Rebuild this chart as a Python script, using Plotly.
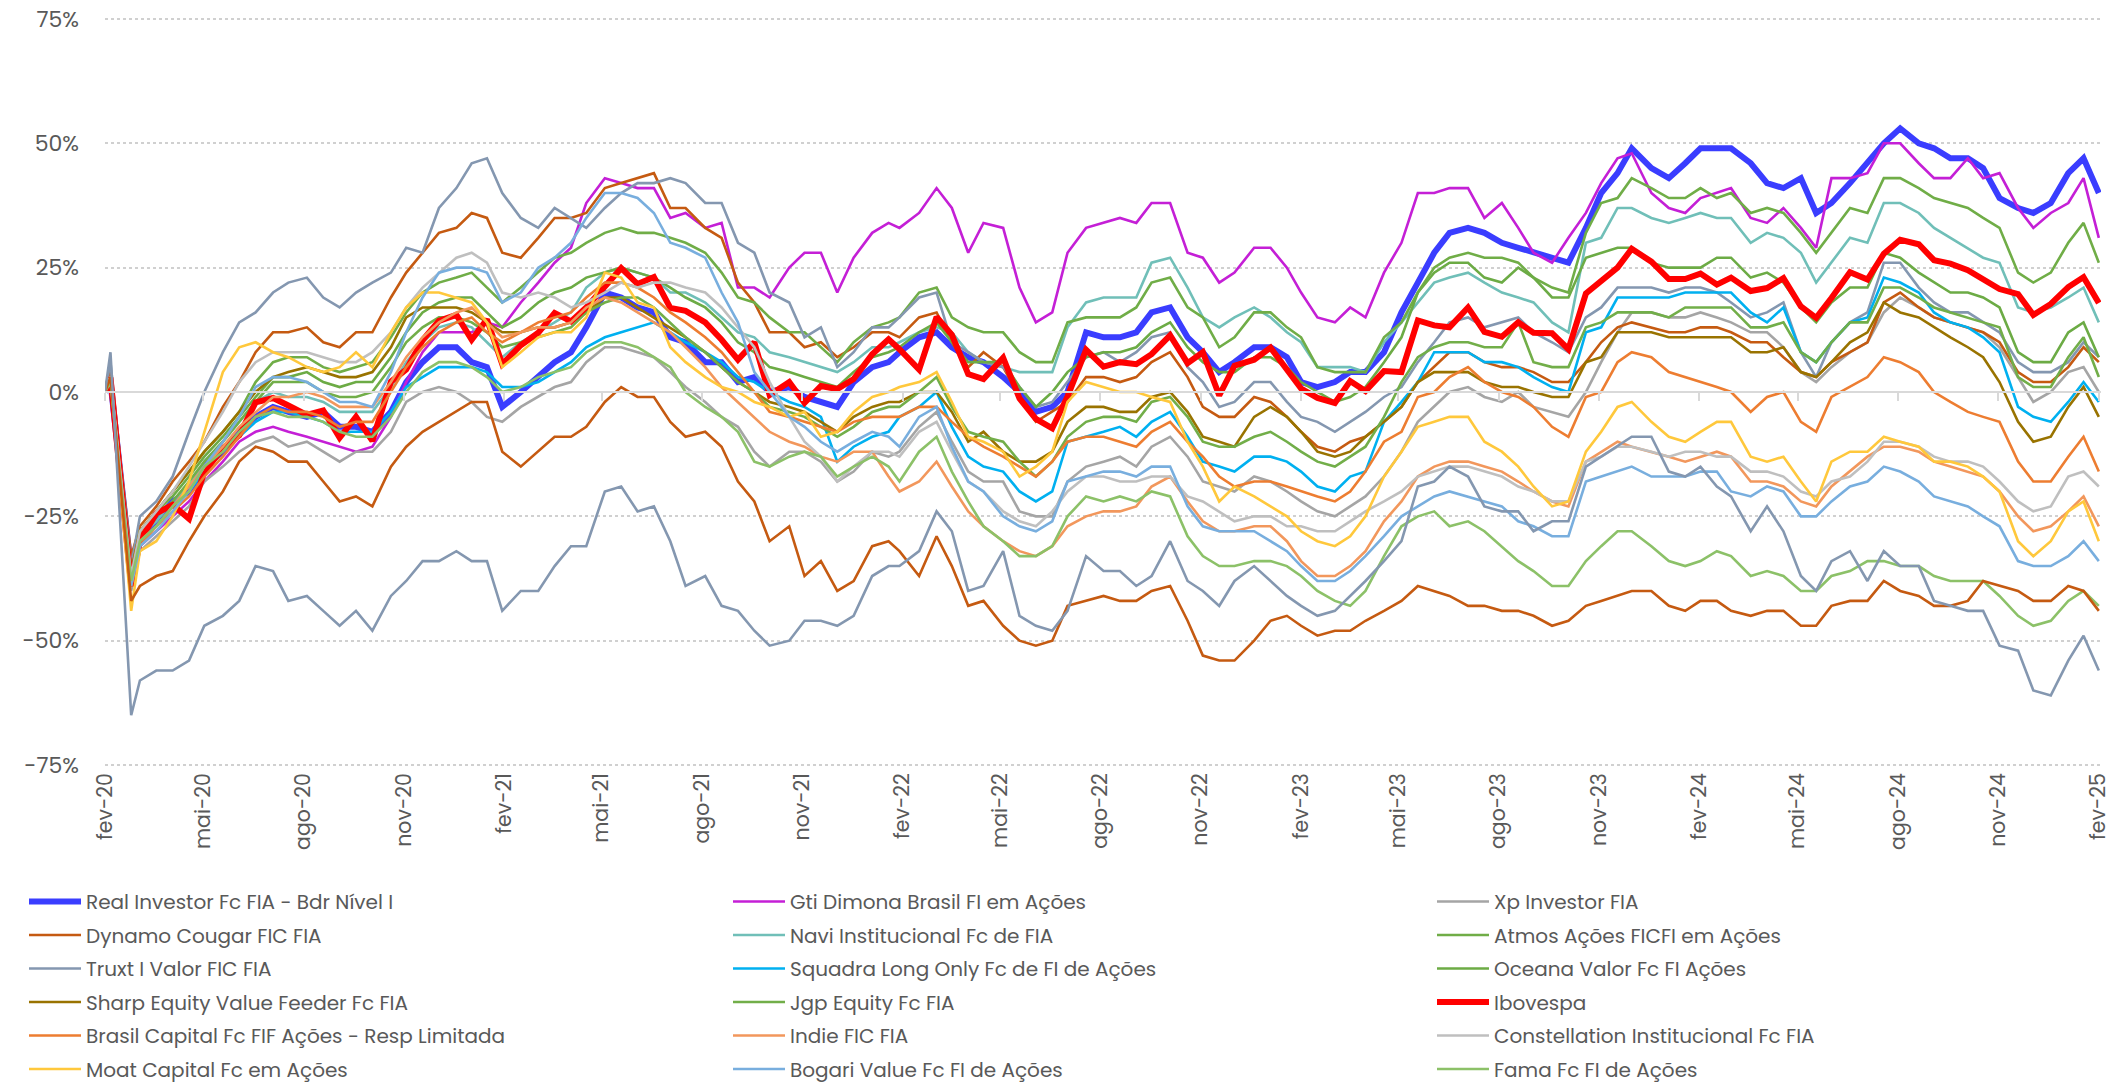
import plotly.graph_objects as go

# ---------------- dates ----------------
end_dates = ["2020-02-28", "2020-03-04", "2020-03-23",
             "2020-03-31", "2020-04-30", "2020-05-29", "2020-06-30", "2020-07-31", "2020-08-31",
             "2020-09-30", "2020-10-30", "2020-11-30", "2020-12-30",
             "2021-01-29", "2021-02-26", "2021-03-31", "2021-04-30", "2021-05-31", "2021-06-30",
             "2021-07-30", "2021-08-31", "2021-09-30", "2021-10-29", "2021-11-30", "2021-12-30",
             "2022-01-31", "2022-02-25", "2022-03-31", "2022-04-29", "2022-05-31", "2022-06-30",
             "2022-07-29", "2022-08-31", "2022-09-30", "2022-10-31", "2022-11-30", "2022-12-29",
             "2023-01-31", "2023-02-28", "2023-03-31", "2023-04-28", "2023-05-31", "2023-06-30",
             "2023-07-31", "2023-08-31", "2023-09-29", "2023-10-31", "2023-11-30", "2023-12-28",
             "2024-01-31", "2024-02-29", "2024-03-28", "2024-04-30", "2024-05-31", "2024-06-28",
             "2024-07-31", "2024-08-30", "2024-09-30", "2024-10-31", "2024-11-29", "2024-12-30",
             "2025-01-31", "2025-02-28"]
mid_dates = ["2020-04-15", "2020-05-15", "2020-06-15", "2020-07-15", "2020-08-14", "2020-09-15",
             "2020-10-15", "2020-11-16", "2020-12-15",
             "2021-01-15", "2021-02-12", "2021-03-15", "2021-04-15", "2021-05-14", "2021-06-15",
             "2021-07-15", "2021-08-13", "2021-09-15", "2021-10-15", "2021-11-16", "2021-12-15",
             "2022-01-14", "2022-02-15", "2022-03-15", "2022-04-14", "2022-05-13", "2022-06-15",
             "2022-07-15", "2022-08-15", "2022-09-15", "2022-10-14", "2022-11-16", "2022-12-15",
             "2023-01-16", "2023-02-15", "2023-03-15", "2023-04-14", "2023-05-15", "2023-06-15",
             "2023-07-14", "2023-08-15", "2023-09-15", "2023-10-16", "2023-11-16", "2023-12-15",
             "2024-01-15", "2024-02-15", "2024-03-15", "2024-04-15", "2024-05-15", "2024-06-14",
             "2024-07-15", "2024-08-15", "2024-09-16", "2024-10-15", "2024-11-14", "2024-12-16",
             "2025-01-15", "2025-02-14"]

tick_dates = ["2020-02-28", "2020-05-28", "2020-08-28", "2020-11-28",
              "2021-02-28", "2021-05-28", "2021-08-28", "2021-11-28",
              "2022-02-28", "2022-05-28", "2022-08-28", "2022-11-28",
              "2023-02-28", "2023-05-28", "2023-08-28", "2023-11-28",
              "2024-02-28", "2024-05-28", "2024-08-28", "2024-11-28", "2025-02-28"]
tick_labels = ["fev-20", "mai-20", "ago-20", "nov-20", "fev-21", "mai-21", "ago-21", "nov-21",
               "fev-22", "mai-22", "ago-22", "nov-22", "fev-23", "mai-23", "ago-23", "nov-23",
               "fev-24", "mai-24", "ago-24", "nov-24", "fev-25"]

y_ticks = [-75, -50, -25, 0, 25, 50, 75]
y_labels = ["-75%", "-50%", "-25%", "0%", "25%", "50%", "75%"]

# ---------------- cumulative returns, % ----------------
# *_end: values at end_dates, *_mid: values at mid_dates
real_investor_end = [0, 2, -36, -30, -22, -15, -8, -3, -5, -7, -8, 2, 9, 6, -3, 3, 8, 20, 17, 11, 6, 2, 0,
                     -1, -3, 5, 8, 12, 7, 3, -4, 0, 11, 12, 17, 8, 6, 9, 2, 2, 4, 16, 28,
                     33, 30, 28, 26, 40, 49, 43, 49, 49, 42, 43, 38, 46, 53, 49, 47, 39, 36, 44, 40]
real_investor_mid = [-26, -20, -12, -5, -4, -4, -7, -4, 6, 9, 5, 0, 6, 13, 19, 16, 10, 6, 3, 1,
                     -2, 2, 6, 11, 9, 6, 0, -3, 12, 11, 16, 11, 4, 9, 7, 1, 4, 8, 22, 32,
                     32, 29, 27, 33, 44, 45, 46, 49, 46, 41, 36, 42, 50, 50, 47, 45, 37, 38, 47]

gti_dimona_end = [0, 3, -38, -31, -25, -18, -10, -7, -9, -11, -11, 2, 12, 12, 13, 22, 29, 43, 41, 35, 33, 21, 19,
                  28, 20, 32, 33, 41, 28, 33, 14, 28, 34, 34, 38, 27, 24, 29, 20, 14, 15, 30, 40,
                  41, 38, 28, 31, 42, 48, 37, 39, 41, 34, 33, 43, 44, 50, 43, 47, 44, 33, 38, 31]
gti_dimona_mid = [-28, -22, -14, -8, -8, -10, -12, -5, 8, 12, 14, 18, 26, 38, 42, 41, 36, 34, 21, 25,
                  28, 27, 34, 36, 37, 34, 21, 16, 33, 35, 38, 28, 22, 29, 25, 15, 17, 24, 40, 41,
                  35, 33, 26, 36, 47, 40, 36, 40, 35, 37, 29, 43, 50, 46, 43, 43, 37, 36, 43]

xp_investor_end = [0, 3, -40, -32, -26, -18, -12, -9, -10, -14, -12, -2, 1, -2, -6, -1, 2, 9, 8, 4, -2, -7, -15,
                   -12, -18, -12, -12, -4, -16, -18, -25, -18, -14, -15, -9, -18, -20, -18, -22, -25, -21, -12, -3,
                   1, -2, -3, -5, 6, 16, 15, 16, 14, 12, 4, 5, 10, 19, 15, 13, 9, -2, 4, 0]
xp_investor_mid = [-29, -23, -15, -10, -11, -12, -12, -8, 0, 0, -5, -3, 1, 6, 9, 7, 1, -5, -12, -12,
                   -14, -16, -13, -7, -10, -18, -24, -25, -15, -13, -11, -13, -19, -17, -20, -24, -23, -17, -6, 0,
                   -1, 0, -4, 0, 12, 16, 15, 15, 12, 9, 2, 8, 16, 17, 14, 12, 3, 0, 5]

dynamo_end = [0, 4, -33, -27, -18, -10, 2, 12, 13, 9, 12, 24, 32, 36, 28, 31, 35, 41, 43, 37, 33, 22, 12,
              9, 7, 12, 11, 16, 5, 5, -6, -2, 3, 3, 8, -3, -5, -2, -8, -12, -9, -3, 5,
              8, 5, 4, 2, 10, 14, 12, 13, 12, 10, 4, 6, 10, 20, 15, 13, 10, 2, 5, 6]
dynamo_mid = [-23, -14, -3, 8, 12, 10, 12, 19, 28, 33, 35, 27, 35, 36, 42, 44, 37, 31, 18, 12,
              10, 9, 12, 15, 10, 8, -1, -4, 3, 2, 6, 3, -5, -1, -5, -11, -10, -6, 2, 8,
              6, 5, 2, 6, 13, 13, 12, 13, 10, 7, 3, 8, 18, 17, 14, 12, 4, 2, 9]

navi_end = [0, 3, -37, -29, -22, -14, -6, 0, -1, -4, -4, 6, 13, 13, 7, 12, 16, 24, 24, 20, 18, 12, 8,
            6, 4, 9, 10, 13, 8, 5, 4, 13, 19, 19, 27, 15, 15, 15, 10, 5, 4, 14, 22,
            24, 20, 18, 12, 31, 37, 34, 36, 35, 32, 28, 26, 30, 38, 33, 29, 26, 16, 19, 14]
navi_mid = [-26, -19, -10, -2, -1, -2, -4, 1, 10, 14, 10, 10, 14, 21, 25, 23, 20, 15, 11, 7,
            5, 6, 9, 12, 12, 6, 4, 4, 18, 19, 26, 21, 13, 17, 12, 5, 5, 10, 18, 23,
            22, 19, 14, 30, 37, 35, 35, 35, 30, 31, 22, 31, 38, 36, 31, 27, 17, 17, 21]

atmos_end = [0, 3, -37, -28, -20, -12, -4, 6, 7, 4, 6, 16, 22, 24, 18, 24, 28, 32, 32, 31, 28, 19, 15,
             12, 6, 13, 15, 21, 13, 12, 6, 14, 15, 17, 23, 15, 11, 16, 11, 4, 4, 14, 25,
             28, 27, 23, 20, 38, 43, 39, 41, 40, 37, 32, 32, 36, 43, 39, 37, 33, 22, 30, 26]
atmos_mid = [-24, -16, -8, 2, 7, 5, 5, 11, 20, 23, 21, 21, 27, 30, 33, 32, 30, 24, 18, 12,
             9, 10, 14, 20, 15, 12, 8, 6, 15, 15, 22, 17, 9, 16, 13, 5, 4, 11, 20, 27,
             27, 26, 21, 32, 39, 41, 39, 39, 36, 36, 28, 37, 43, 41, 38, 35, 24, 24, 34]

truxt_end = [0, 6, -35, -25, -17, 0, 14, 20, 23, 17, 22, 29, 37, 46, 40, 33, 35, 37, 42, 43, 38, 30, 20,
             11, 5, 13, 15, 20, 8, 5, -3, 2, 8, 8, 12, 2, -2, 2, -5, -8, -4, 1, 10,
             15, 14, 12, 8, 17, 21, 20, 21, 18, 16, 8, 10, 16, 26, 18, 16, 12, 4, 6, 7]
truxt_mid = [-22, -8, 8, 16, 22, 19, 20, 24, 28, 41, 47, 35, 37, 33, 40, 42, 42, 38, 28, 18,
             13, 8, 13, 19, 10, 6, 1, -2, 7, 6, 11, 5, -3, 2, -2, -6, -6, -1, 6, 14,
             13, 15, 10, 15, 21, 21, 21, 20, 15, 18, 3, 14, 26, 21, 16, 14, 6, 4, 10]

squadra_end = [0, 2, -38, -30, -23, -16, -9, -4, -5, -8, -8, 1, 5, 5, 1, 2, 6, 11, 13, 12, 8, 3, 0,
               -3, -14, -9, -5, 0, -13, -16, -22, -10, -8, -9, -4, -14, -16, -13, -16, -20, -16, -2, 8,
               8, 6, 3, 0, 13, 19, 19, 20, 20, 14, 8, 10, 15, 22, 16, 13, 8, -5, -2, -2]
squadra_mid = [-27, -20, -12, -6, -4, -6, -8, -4, 3, 5, 4, 1, 4, 9, 12, 14, 10, 6, 2, -2,
               -5, -11, -8, -3, -7, -15, -20, -20, -9, -7, -6, -9, -15, -13, -14, -19, -17, -6, 2, 8,
               6, 5, 1, 12, 19, 19, 20, 20, 16, 17, 6, 14, 23, 20, 14, 11, -3, -6, 2]

oceana_end = [0, 3, -36, -28, -21, -13, -5, 3, 4, 1, 2, 12, 18, 19, 13, 18, 21, 24, 24, 21, 17, 10, 5,
              3, 1, 7, 9, 14, 6, 6, -3, 4, 8, 9, 14, 6, 4, 7, 2, -2, 1, 11, 24,
              26, 22, 23, 19, 28, 29, 25, 25, 27, 24, 17, 18, 21, 27, 22, 20, 17, 6, 12, 7]
oceana_mid = [-24, -17, -9, -1, 3, 2, 2, 7, 16, 19, 16, 15, 20, 23, 25, 23, 19, 14, 8, 4,
              2, 4, 8, 12, 10, 6, 1, 0, 7, 8, 12, 9, 4, 7, 5, 0, -1, 6, 20, 26,
              23, 25, 19, 27, 29, 26, 25, 27, 23, 22, 14, 21, 28, 24, 20, 19, 8, 6, 14]

sharp_end = [0, 3, -36, -28, -20, -12, -4, 3, 5, 3, 4, 15, 17, 16, 12, 13, 14, 19, 17, 13, 8, 2, -2,
             -4, -8, -3, -2, 0, -10, -12, -14, -6, -3, -4, 0, -9, -11, -3, -8, -13, -9, -3, 4,
             4, 1, 0, -1, 7, 12, 11, 11, 11, 8, 4, 6, 12, 16, 13, 9, 2, -10, -3, -5]
sharp_mid = [-24, -16, -8, 0, 4, 4, 3, 9, 17, 17, 14, 12, 13, 16, 19, 15, 11, 5, 0, -3,
             -6, -5, -2, 0, -4, -8, -14, -12, -3, -4, -1, -4, -10, -5, -5, -12, -12, -6, 2, 4,
             2, 1, -1, 6, 12, 12, 11, 11, 8, 9, 3, 10, 18, 15, 11, 7, -6, -9, 1]

jgp_end = [0, 3, -37, -29, -22, -14, -6, 2, 2, -1, 0, 10, 15, 14, 9, 11, 13, 18, 19, 14, 8, 2, -3,
           -5, -9, -4, -3, 3, -8, -10, -17, -9, -5, -6, -1, -10, -11, -8, -12, -15, -11, 2, 9,
           10, 9, 6, 5, 14, 16, 15, 17, 17, 13, 8, 10, 14, 21, 17, 15, 13, 1, 7, 3]
jgp_mid = [-25, -18, -10, -2, 2, 0, -1, 5, 13, 15, 12, 10, 12, 16, 19, 17, 11, 5, 0, -4,
           -7, -7, -3, 0, -3, -9, -14, -14, -6, -5, -2, -5, -11, -9, -10, -14, -13, -5, 7, 10,
           9, 14, 5, 13, 16, 16, 17, 17, 13, 14, 6, 14, 21, 19, 16, 14, 3, 1, 11]

ibovespa_end = [0, 2.9, -39.0, -29.9, -22.7, -16.1, -8.7, -1.2, -4.6, -9.2, -9.8, 4.5, 14.3,
                10.5, 5.6, 11.9, 14.2, 21.1, 21.7, 16.9, 14.0, 6.5, -0.6,
                -2.2, 0.6, 7.6, 8.6, 15.1, 3.6, 6.9, -5.4, -0.9, 5.1,
                5.6, 11.4, 8.0, 5.3, 8.9, 0.7, -2.2, 0.2, 4.0, 13.4,
                17.0, 11.1, 11.9, 8.6, 22.2, 28.8, 22.7, 23.8, 23.0, 20.9,
                17.2, 18.9, 22.6, 30.6, 26.5, 24.5, 20.7, 15.5, 21.1, 17.9]
ibovespa_mid = [-24.4, -25.5, -11.3, -2.1, -2.7, -3.7, -5.0, 2.1, 10.4, 15.5,
                14.6, 9.4, 15.9, 17.0, 24.9, 23.1, 16.3, 10.5, 10.0, 2.0,
                1.2, 2.6, 10.6, 4.5, 11.5, 2.6, -1.3, -7.3, 8.5, 6.0,
                7.6, 5.8, -0.7, 6.5, 4.6, -1.2, 2.2, 4.2, 14.4, 13.0,
                12.1, 14.0, 11.8, 19.8, 25.0, 26.2, 22.7, 21.6, 20.3, 22.9,
                14.9, 24.1, 27.8, 29.7, 25.8, 22.7, 19.7, 17.7, 23.1]

brasil_capital_end = [0, 3, -39, -31, -24, -17, -9, -3, -4, -7, -6, 5, 12, 15, 10, 14, 16, 22, 21, 16, 11, 4, -4,
                      -6, -8, -5, -5, -3, -9, -13, -17, -10, -9, -11, -6, -13, -19, -18, -20, -22, -16, -8, 0,
                      5, 0, -3, -9, 0, 8, 4, 2, 0, -1, -6, -1, 3, 6, 0, -4, -6, -18, -13, -16]
brasil_capital_mid = [-27, -21, -13, -5, -4, -5, -6, 0, 9, 14, 12, 12, 15, 19, 22, 19, 14, 8, 0, -5,
                      -7, -6, -5, -3, -6, -11, -15, -14, -9, -10, -8, -10, -17, -18, -19, -21, -20, -10, -1, 3,
                      2, -1, -7, -1, 6, 7, 3, 1, -4, 0, -8, 1, 7, 4, -2, -5, -14, -18, -9]

indie_end = [0, 3, -38, -30, -23, -15, -7, -1, 0, -3, -3, 7, 14, 17, 11, 13, 14, 19, 16, 12, 5, -2, -8,
             -11, -14, -12, -20, -14, -24, -30, -33, -27, -24, -23, -17, -26, -28, -27, -34, -37, -32, -22, -15,
             -14, -16, -20, -23, -12, -11, -13, -13, -13, -18, -22, -19, -13, -11, -14, -16, -20, -28, -24, -27]
indie_mid = [-27, -19, -11, -4, -1, -1, -3, 2, 11, 16, 14, 12, 13, 17, 18, 14, 9, 1, -5, -10,
             -13, -12, -17, -18, -19, -27, -32, -31, -25, -24, -19, -22, -28, -27, -30, -37, -35, -26, -17, -14,
             -15, -18, -22, -14, -10, -12, -14, -12, -18, -19, -23, -16, -11, -12, -15, -17, -25, -27, -21]

constellation_end = [0, 3, -37, -28, -20, -10, 2, 8, 8, 6, 8, 17, 24, 28, 20, 20, 17, 20, 21, 22, 20, 13, 2,
                     -10, -18, -12, -13, -6, -18, -24, -27, -20, -17, -18, -17, -22, -26, -25, -27, -28, -24, -20, -16,
                     -15, -17, -20, -22, -13, -11, -13, -12, -13, -16, -20, -18, -14, -10, -13, -14, -18, -24, -17, -19]
constellation_mid = [-24, -15, -4, 6, 8, 7, 6, 12, 21, 27, 26, 19, 19, 18, 22, 22, 21, 17, 9, -5,
                     -13, -15, -12, -8, -12, -20, -26, -24, -17, -18, -17, -21, -24, -25, -27, -28, -26, -22, -17, -15,
                     -16, -19, -22, -14, -11, -12, -12, -13, -16, -17, -21, -17, -10, -11, -14, -15, -22, -23, -16]

moat_end = [0, 3, -44, -32, -25, -8, 9, 8, 5, 5, 5, 17, 20, 18, 5, 11, 12, 24, 18, 9, 3, 0, -3,
            -4, -8, -1, 1, 4, -9, -12, -15, -2, 1, 0, -2, -15, -19, -23, -28, -31, -25, -12, -6,
            -5, -12, -19, -22, -8, -2, -9, -8, -6, -14, -18, -14, -12, -10, -14, -15, -20, -33, -24, -30]
moat_mid = [-30, -18, 4, 10, 7, 4, 8, 12, 20, 19, 14, 8, 12, 15, 23, 17, 6, 1, -2, -5,
            -9, -4, 0, 2, -2, -10, -17, -12, 2, 0, -1, -10, -22, -21, -25, -30, -29, -17, -7, -5,
            -10, -15, -23, -12, -3, -6, -10, -6, -13, -13, -22, -12, -9, -11, -14, -17, -30, -30, -22]

bogari_end = [0, 3, -39, -31, -24, -15, -5, 3, 2, -2, -3, 12, 24, 25, 18, 25, 30, 40, 39, 30, 27, 14, 0,
              -7, -12, -8, -11, -3, -18, -25, -28, -18, -16, -17, -15, -27, -28, -30, -35, -38, -33, -25, -21,
              -21, -23, -27, -29, -17, -15, -17, -16, -20, -19, -25, -22, -18, -16, -21, -23, -27, -35, -33, -34]
bogari_mid = [-28, -20, -10, 1, 3, 0, -2, 4, 19, 25, 24, 20, 27, 35, 40, 36, 29, 20, 4, -5,
              -10, -10, -9, -5, -11, -20, -27, -26, -17, -16, -15, -23, -28, -28, -32, -38, -36, -29, -23, -20,
              -22, -26, -29, -18, -16, -17, -17, -16, -21, -20, -25, -19, -15, -18, -22, -25, -34, -35, -30]

fama_end = [0, 2, -38, -30, -23, -15, -8, -4, -5, -8, -9, 0, 6, 5, 0, 3, 5, 10, 9, 5, -3, -8, -15,
            -12, -17, -13, -18, -9, -22, -30, -33, -25, -22, -22, -21, -33, -35, -34, -37, -42, -40, -27, -24,
            -26, -31, -36, -39, -31, -28, -34, -34, -33, -36, -40, -37, -34, -35, -37, -38, -41, -47, -42, -43]
fama_mid = [-27, -20, -12, -5, -5, -6, -9, -5, 4, 6, 3, 1, 4, 8, 10, 7, 0, -5, -14, -13,
            -13, -15, -15, -12, -16, -27, -33, -31, -21, -21, -20, -29, -35, -34, -35, -40, -43, -33, -25, -27,
            -28, -34, -39, -34, -28, -31, -35, -32, -37, -37, -40, -36, -34, -35, -38, -38, -45, -46, -40]

# two further series drawn in the chart whose legend rows fall below the picture
serie_19_end = [0, 3, -42, -39, -36, -25, -14, -12, -14, -22, -23, -11, -6, -2, -12, -12, -9, -2, -1, -6, -8, -18, -30,
                -37, -40, -31, -32, -29, -43, -47, -51, -43, -41, -42, -39, -53, -54, -46, -47, -48, -46, -42, -40,
                -43, -44, -45, -46, -42, -40, -43, -42, -44, -44, -47, -43, -42, -40, -43, -42, -39, -42, -39, -44]
serie_19_mid = [-37, -30, -20, -11, -14, -18, -21, -15, -8, -4, -2, -15, -9, -7, 1, -1, -9, -11, -22, -27,
                -34, -38, -30, -37, -35, -42, -50, -50, -42, -42, -40, -46, -54, -50, -45, -49, -48, -44, -39, -41,
                -43, -44, -47, -43, -41, -40, -44, -42, -45, -44, -47, -42, -38, -41, -43, -38, -40, -42, -40]
serie_20_end = [0, 8, -65, -58, -56, -47, -42, -36, -41, -47, -48, -38, -34, -34, -44, -40, -31, -20, -24, -30, -37, -44, -51,
                -46, -47, -37, -35, -24, -40, -32, -47, -44, -36, -39, -30, -40, -38, -38, -43, -44, -38, -30, -18,
                -17, -24, -28, -26, -13, -9, -16, -15, -21, -23, -37, -34, -38, -35, -42, -44, -51, -60, -54, -56]
serie_20_mid = [-56, -54, -45, -35, -42, -44, -44, -41, -34, -32, -34, -40, -35, -31, -19, -23, -39, -43, -48, -50,
                -46, -45, -35, -32, -28, -39, -45, -48, -33, -36, -37, -38, -43, -35, -41, -45, -41, -34, -19, -15,
                -23, -24, -26, -15, -11, -9, -17, -19, -28, -28, -40, -32, -32, -35, -43, -44, -52, -61, -49]

series = [
    ("Real Investor Fc FIA - Bdr Nível I", real_investor_end, real_investor_mid, "#3A3DFF", 6),
    ("Gti Dimona Brasil FI em Ações", gti_dimona_end, gti_dimona_mid, "#C41FD6", 2.6),
    ("Xp Investor FIA", xp_investor_end, xp_investor_mid, "#A5A5A5", 2.6),
    ("Dynamo Cougar FIC FIA", dynamo_end, dynamo_mid, "#C55A11", 2.6),
    ("Navi Institucional Fc de FIA", navi_end, navi_mid, "#70BFB8", 2.6),
    ("Atmos Ações FICFI em Ações", atmos_end, atmos_mid, "#70AD47", 2.6),
    ("Truxt I Valor FIC FIA", truxt_end, truxt_mid, "#8497B0", 2.6),
    ("Squadra Long Only Fc de FI de Ações", squadra_end, squadra_mid, "#00B0F0", 2.6),
    ("Oceana Valor Fc FI Ações", oceana_end, oceana_mid, "#6CAB45", 2.6),
    ("Sharp Equity Value Feeder Fc FIA", sharp_end, sharp_mid, "#997300", 2.6),
    ("Jgp Equity Fc FIA", jgp_end, jgp_mid, "#72AE49", 2.6),
    ("Ibovespa", ibovespa_end, ibovespa_mid, "#FF0000", 6),
    ("Brasil Capital Fc FIF Ações - Resp Limitada", brasil_capital_end, brasil_capital_mid, "#ED7D31", 2.6),
    ("Indie FIC FIA", indie_end, indie_mid, "#F2975C", 2.6),
    ("Constellation Institucional Fc FIA", constellation_end, constellation_mid, "#BFBFBF", 2.6),
    ("Moat Capital Fc em Ações", moat_end, moat_mid, "#FFC83C", 2.6),
    ("Bogari Value Fc FI de Ações", bogari_end, bogari_mid, "#78AEDE", 2.6),
    ("Fama Fc FI de Ações", fama_end, fama_mid, "#8CC168", 2.6),
    ("Série 19", serie_19_end, serie_19_mid, "#C55A11", 2.6),
    ("Série 20", serie_20_end, serie_20_mid, "#8497B0", 2.6),
]
N_LEGEND = 18


def merge(ends, mids):
    out = list(ends[:4])
    for j in range(len(mids)):
        out.append(mids[j])
        out.append(ends[j + 4])
    return out


assert len(end_dates) == 63 and len(mid_dates) == 59
dates = merge(end_dates, mid_dates)
for nm, e, m, _, _ in series:
    assert len(e) == 63, (nm, len(e))
    assert len(m) == 59, (nm, len(m))

FONT = "Poppins, Lato, 'Noto Sans', sans-serif"
legend_ids = ["legend", "legend2", "legend3"]

fig = go.Figure()
for i, (name, ends, mids, color, width) in enumerate(series):
    show = i < N_LEGEND
    fig.add_trace(go.Scatter(
        x=dates, y=merge(ends, mids), name=name, mode="lines",
        line=dict(color=color, width=width),
        showlegend=show, legend=legend_ids[i % 3] if show else "legend",
        legendgroup=name, hoverinfo="skip"))

# invisible trace so the overlaid axis at 0% (with its tick marks) is drawn
fig.add_trace(go.Scatter(x=dates, y=merge(ibovespa_end, ibovespa_mid), xaxis="x2", mode="lines",
                         line=dict(width=0), opacity=0, showlegend=False, hoverinfo="skip"))

x_range = ["2020-02-28", "2025-03-02"]
y_range = [-75.6, 75.6]

legend_common = dict(orientation="v", xref="container", yref="container", y=0.193,
                     xanchor="left", yanchor="top", tracegroupgap=4.5,
                     font=dict(size=20, color="#595959", family=FONT),
                     bgcolor="rgba(0,0,0,0)", itemwidth=52)

fig.update_layout(
    width=2114, height=1083,
    margin=dict(l=97, r=21, t=8, b=323, autoexpand=False),
    paper_bgcolor="white", plot_bgcolor="white",
    font=dict(family=FONT, color="#595959"),
    xaxis=dict(type="date", range=x_range, tickvals=tick_dates, ticktext=tick_labels,
               tickangle=-90, tickfont=dict(size=20.5, color="#595959"),
               showgrid=False, zeroline=False, showline=False, ticks="", automargin=False,
               ticklabeloverflow="allow"),
    xaxis2=dict(type="date", range=x_range, overlaying="x", anchor="free", position=0.5,
                tickvals=tick_dates, showticklabels=False, ticks="outside", ticklen=8,
                tickcolor="#D9D9D9", tickwidth=1.5, showline=True, linecolor="#D9D9D9",
                linewidth=2, showgrid=False, zeroline=False),
    yaxis=dict(range=y_range, tickvals=y_ticks, ticktext=y_labels,
               tickfont=dict(size=22, color="#595959"),
               showgrid=True, gridcolor="#D0D0D0", griddash="dot", gridwidth=1.5,
               zeroline=False, showline=False, ticks="", ticklabelstandoff=25, automargin=False,
               ticklabeloverflow="allow"),
    legend=dict(x=16 / 2114, **legend_common),
    legend2=dict(x=720 / 2114, **legend_common),
    legend3=dict(x=1424 / 2114, **legend_common),
)

fig.write_html("out.html")
